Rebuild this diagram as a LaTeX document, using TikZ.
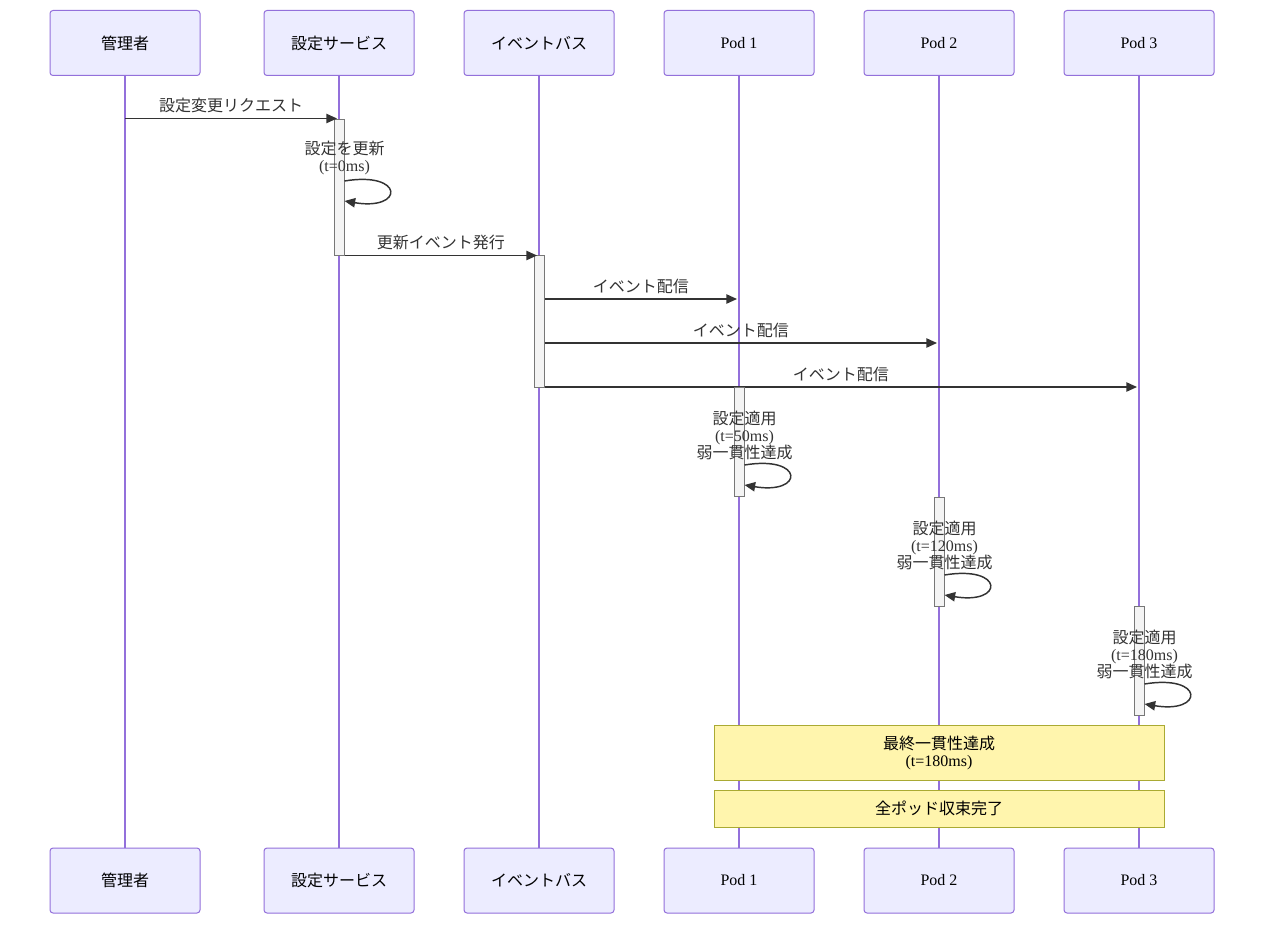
\documentclass[tikz,border=0pt]{standalone}
\usepackage{fontspec}
\setmainfont{Liberation Serif}
\newfontfamily\cjk{Noto Sans CJK JP}
\newcommand{\jp}[1]{{\cjk #1}}
\usetikzlibrary{arrows.meta}
\definecolor{sqbox}{HTML}{ECECFF}
\definecolor{sqedge}{HTML}{9370DB}
\definecolor{sqink}{HTML}{333333}
\definecolor{sqact}{HTML}{F4F4F4}
\definecolor{sqactedge}{HTML}{777777}
\definecolor{sqnote}{HTML}{FFF5AD}
\definecolor{sqnoteedge}{HTML}{AAAA33}

\begin{document}
\begin{tikzpicture}[x=0.75pt,y=-0.75pt,
  actor/.style={draw=sqedge,fill=sqbox,line width=0.75pt,rounded corners=2.25pt,
    minimum width=112.5pt,minimum height=48.75pt,font=\fontsize{12}{12.75}\selectfont},
  life/.style={sqedge,line width=1.1pt},
  act/.style={draw=sqactedge,fill=sqact,line width=0.75pt,minimum width=7.5pt,inner sep=0pt},
  msg/.style={sqink,line width=1.1pt,-{Triangle[length=8pt,width=7pt]}},
  lbl/.style={text=sqink,yshift=9.75pt,font=\fontsize{12}{12.75}\selectfont},
  selfmsg/.style={text=sqink,align=center,inner sep=0pt,font=\fontsize{12}{12.75}\selectfont},
  note/.style={draw=sqnoteedge,fill=sqnote,line width=0.75pt,minimum width=337.5pt,
    align=center,inner sep=0pt,font=\fontsize{12}{12.75}\selectfont}]
  \fill[white] (0,0) rectangle (1269,924);
  \useasboundingbox (0,0) rectangle (1269,924);

  % Participants, top and bottom, with lifelines
  \foreach \n/\x/\lbltext in {adm/125/\jp{管理者}, conf/339/\jp{設定サービス}, bus/539/\jp{イベントバス},
      pod1/739/Pod 1, pod2/939/Pod 2, pod3/1139/Pod 3} {
    \node[actor] (\n) at (\x,43) {\lbltext};
    \node[actor] (\n-b) at (\x,880.5) {\lbltext};
    \draw[life] (\n) -- (\n-b);
  }

  % Activations on the config service and the event bus
  \node[act,minimum height=102pt] (a1) at (339,187) {};
  \node[act,minimum height=99pt] (a2) at (539,321) {};

  % Request and self update
  \draw[msg] (adm |- a1.north) -- ([xshift=-1.5pt]conf |- a1.north)
    node[midway,lbl] {\jp{設定変更リクエスト}};
  \node[selfmsg] (t1) at (a1.east |- 0,157.5) {\jp{設定を更新}\\(t=0ms)};
  \draw[msg] (a1.east |- 0,181) .. controls +(60,-10) and +(60,10) .. (a1.east |- 0,201);

  % Publish
  \draw[msg] (a1.south east) -- ([xshift=-1.5pt]bus |- a1.south)
    node[midway,lbl] {\jp{更新イベント発行}};

  % Delivery to each pod
  \foreach \p/\y in {pod1/299, pod2/343, pod3/387}
    \draw[msg] (a2.east |- 0,\y) -- ([xshift=-1.5pt]\p |- 0,\y)
      node[midway,lbl] {\jp{イベント配信}};

  % Each pod applies the config
  \foreach \p/\y/\ms in {pod1/441.5/50, pod2/551.5/120, pod3/660.5/180} {
    \node[act,minimum height=81.75pt] (act-\p) at (\p |- 0,\y) {};
    \node[selfmsg] (txt-\p) at (act-\p.east |- 0,\y-6) {\jp{設定適用}\\(t=\ms ms)\\\jp{弱一貫性達成}};
    \draw[msg] (act-\p.east |- 0,\y+23.5) .. controls +(60,-10) and +(60,10) .. (act-\p.east |- 0,\y+43.5);
  }

  % Notes over the pods
  \node[note,minimum height=41.25pt] (n1) at (939,752.5) {\jp{最終一貫性達成}\\(t=180ms)};
  \node[note,minimum height=27.75pt] (n2) at (939,808.5) {\jp{全ポッド収束完了}};
\end{tikzpicture}
\end{document}
